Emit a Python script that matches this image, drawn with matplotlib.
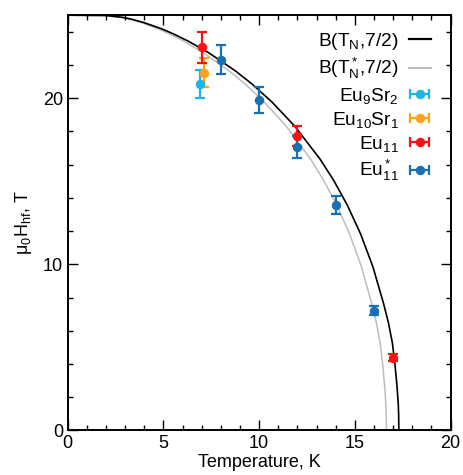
import matplotlib
matplotlib.use("Agg")
import matplotlib.pyplot as plt
from matplotlib.ticker import MultipleLocator

plt.rcParams['font.family'] = ['Liberation Sans', 'DejaVu Sans']
plt.rcParams['mathtext.fontset'] = 'custom'
plt.rcParams['mathtext.rm'] = 'Liberation Sans'
plt.rcParams['mathtext.it'] = 'Liberation Sans:italic'
plt.rcParams['mathtext.default'] = 'regular'

# Brillouin curves B(T_N, 7/2) and B(T_N*, 7/2)
curve_T = [0.0, 2.016, 2.868, 3.332, 3.966, 4.883, 5.509, 6.306, 7.347, 8.744,
           9.624, 10.653, 11.844, 13.185, 13.891, 14.603, 15.296, 15.938,
           16.495, 16.753, 16.963, 17.096, 17.204, 17.267, 17.286, 17.30]
curve_B = [25.0, 24.98, 24.87, 24.76, 24.56, 24.19, 23.88, 23.43, 22.75, 21.66,
           20.86, 19.79, 18.34, 16.33, 15.06, 13.57, 11.84, 9.87,
           7.66, 6.49, 5.25, 3.97, 2.66, 1.60, 1.07, 0.0]
curve_star_T = [0.0, 1.941, 2.760, 3.206, 3.817, 4.699, 5.302, 6.069, 7.071, 8.415,
                9.263, 10.253, 11.399, 12.690, 13.369, 14.054, 14.721, 15.340,
                15.875, 16.124, 16.325, 16.454, 16.558, 16.619, 16.637, 16.65]
curve_star_B = curve_B

# measured hyperfine fields
eu9sr2_T, eu9sr2_B, eu9sr2_err = [6.9], [20.87], [0.83]
eu10sr1_T, eu10sr1_B, eu10sr1_err = [7.1], [21.53], [0.87]
eu11_T, eu11_B, eu11_err = [7.0, 12.0, 17.0], [23.07, 17.75, 4.38], [0.92, 0.6, 0.2]
eu11s_T = [8.0, 10.0, 12.0, 14.0, 16.0]
eu11s_B = [22.31, 19.89, 17.07, 13.57, 7.19]
eu11s_err = [0.88, 0.78, 0.65, 0.56, 0.27]

c_lblue = '#1fb4ea'
c_orange = '#ffa21a'
c_red = '#ff1010'
c_blue = '#1a6fb2'

fig = plt.figure(figsize=(4.64, 4.75), dpi=100)
ax = fig.add_axes([0.146, 0.094, 0.825, 0.874])

ax.plot(curve_T, curve_B, color='black', lw=1.2, zorder=2)
ax.plot(curve_star_T, curve_star_B, color='#bdbdbd', lw=1.1, zorder=1)

eb = dict(fmt='o', ms=5.8, elinewidth=1.6, capsize=3.8, capthick=1.6, zorder=3)
series = [(eu9sr2_T, eu9sr2_B, eu9sr2_err, c_lblue),
          (eu10sr1_T, eu10sr1_B, eu10sr1_err, c_orange),
          (eu11_T, eu11_B, eu11_err, c_red),
          (eu11s_T, eu11s_B, eu11s_err, c_blue)]
for t, b, e, c in series:
    ax.errorbar(t, b, yerr=e, color=c, **eb)

# legend proxies drawn gnuplot-style (horizontal bar with caps)
handles = [plt.Line2D([], [], color='black', lw=1.6),
           plt.Line2D([], [], color='#bdbdbd', lw=1.4)]
for t, b, e, c in series:
    h = ax.errorbar([float('nan')], [float('nan')], xerr=[1], color=c, **eb)
    handles.append(h)
labels = ['B(T$_N$,7/2)', 'B(T$_N^*$,7/2)', 'Eu$_9$Sr$_2$', 'Eu$_{10}$Sr$_1$',
          'Eu$_{11}$', 'Eu$_{11}^*$']
ax.legend(handles, labels, loc='upper right', bbox_to_anchor=(0.948, 0.962),
          frameon=False, markerfirst=False, fontsize=13.8, handlelength=1.15,
          handletextpad=0.52, labelspacing=0.22, borderpad=0, borderaxespad=0)

ax.set_xlim(0, 20)
ax.set_ylim(0, 25)
ax.xaxis.set_major_locator(MultipleLocator(5))
ax.xaxis.set_minor_locator(MultipleLocator(1))
ax.yaxis.set_major_locator(MultipleLocator(10))
ax.yaxis.set_minor_locator(MultipleLocator(2))
ax.tick_params(which='both', direction='in', top=True, right=True, labelsize=13)
ax.tick_params(which='major', length=7, width=1)
ax.tick_params(which='minor', length=3.6, width=1)
for s in ax.spines.values():
    s.set_linewidth(1.4)

ax.set_xlabel('Temperature, K', fontsize=13, labelpad=1)
ax.set_ylabel('μ$_0$H$_{hf}$, T', fontsize=13, labelpad=6)

fig.savefig('out.png', dpi=100)
